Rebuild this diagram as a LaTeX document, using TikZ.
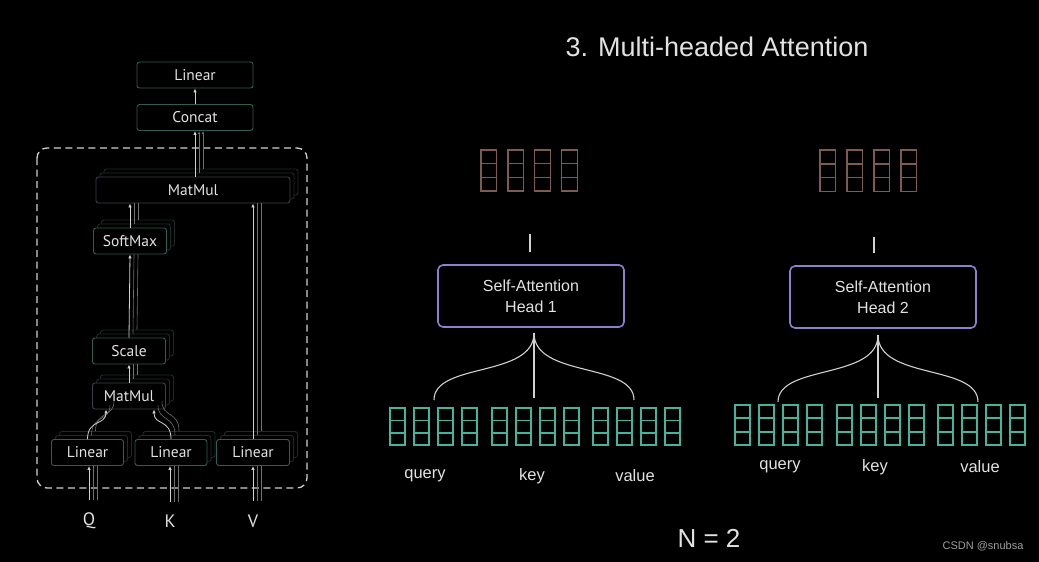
\documentclass[tikz,border=0pt]{standalone}
\usepackage{fontspec}
\setmainfont{Liberation Sans}
\newfontfamily\blockfont{PT Sans}
\usetikzlibrary{arrows.meta,positioning,shadows,calc}
\definecolor{textCol}{HTML}{E2E2E2}
\definecolor{blockCol}{HTML}{2F5E54}
\definecolor{mulCol}{HTML}{3E3E4C}
\definecolor{stackCol}{HTML}{1E2A27}
\definecolor{headCol}{HTML}{8A82CE}
\definecolor{outVecCol}{HTML}{7E5A52}
\definecolor{inVecCol}{HTML}{45B49C}
\definecolor{edgeColor}{HTML}{D0D0D0}
\definecolor{faintCol}{HTML}{707070}
\tikzstyle{block}=[draw=blockCol, fill=black, line width=0.9pt, rounded corners=2.5pt, text=textCol,
    font=\blockfont\fontsize{15.5}{17}\selectfont, minimum height=26pt, inner sep=0pt]
\tikzstyle{stacked}=[copy shadow={shadow xshift=8pt, shadow yshift=8pt, draw=stackCol, fill=black, opacity=1},
    copy shadow={shadow xshift=4pt, shadow yshift=4pt, draw=stackCol, fill=black, opacity=1}]
\tikzstyle{connection}=[draw=edgeColor, line width=0.8pt, -{Latex[length=4pt,width=3.5pt]}]
\tikzstyle{faint}=[draw=faintCol, line width=0.6pt]
\tikzstyle{headbox}=[draw=headCol, fill=black, line width=1.6pt, rounded corners=5pt, minimum width=186pt,
    minimum height=62pt, align=center, text=textCol, font=\fontsize{16}{21}\selectfont]
\tikzstyle{fork}=[draw=edgeColor, line width=1.1pt]
\tikzstyle{outvec}=[draw=outVecCol, line width=1.3pt]
\tikzstyle{invec}=[draw=inVecCol, line width=1.9pt]
\tikzstyle{veclabel}=[text=textCol, font=\fontsize{16.5}{18}\selectfont]
\tikzstyle{inlabel}=[text=textCol, font=\blockfont\fontsize{18}{20}\selectfont, inner sep=0pt]

\begin{document}
\begin{tikzpicture}[x=1pt, y=-1pt]

    \fill[black] (0,0) rectangle (1039,562);
    \useasboundingbox (0,0) rectangle (1039,562);

    % ==== TITLE ====
    \node[text=textCol, font=\fontsize{27}{30}\selectfont] (title) at (717,47) {3. Multi-headed Attention};

    % === ATTENTION BLOCK ===
    \draw[draw=edgeColor, line width=1.3pt, dash pattern=on 7pt off 4.5pt, rounded corners=10pt]
        (37,148) rectangle (307,488);

    \node[block, minimum width=116pt] (linOut) at (195,75) {Linear};
    \node[block, minimum width=116pt] (concat) at (195,117.5) {Concat};
    \node[block, stacked, draw=mulCol, minimum width=194pt] (mm2) at (193,190) {MatMul};
    \node[block, stacked, minimum width=73pt] (softmax) at (130,241) {SoftMax};
    \node[block, stacked, minimum width=73pt] (scale) at (129,351) {Scale};
    \node[block, stacked, draw=mulCol, minimum width=73pt] (mm1) at (129,396) {MatMul};
    \node[block, stacked, minimum width=72pt] (linQ) at (87.5,452.5) {Linear};
    \node[block, stacked, minimum width=72pt] (linK) at (171,452.5) {Linear};
    \node[block, stacked, minimum width=73pt] (linV) at (253,452.5) {Linear};

    % inputs
    \node[inlabel] (qIn) at (89,521) {Q};
    \node[inlabel] (kIn) at (170,521) {K};
    \node[inlabel] (vIn) at (253,521) {V};

    % ==== CONNECTIONS ====
    % other heads: faint copies beside each arrow
    \foreach \s in {4,8} {
        \draw[faint] ([xshift=\s pt, yshift=13pt]qIn.north) -- ([xshift=\s pt]qIn.north |- linQ.south);
        \draw[faint] ([xshift=\s pt, yshift=13pt]kIn.north) -- ([xshift=\s pt]kIn.north |- linK.south);
        \draw[faint] ([xshift=\s pt, yshift=13pt]vIn.north) -- ([xshift=\s pt]vIn.north |- linV.south);
        \draw[faint] ([shift={(\s,-\s)}]linQ.north) .. controls ([shift={(\s,-\s-20)}]linQ.north)
            and ([xshift=\s pt-23pt, yshift=\s pt-16pt]mm1.south) .. ([xshift=\s pt-23pt, yshift=\s pt]mm1.south);
        \draw[faint] ([shift={(\s,-\s)}]linK.north) .. controls ([shift={(\s,-\s-20)}]linK.north)
            and ([xshift=\s pt+25pt, yshift=\s pt-16pt]mm1.south) .. ([xshift=\s pt+25pt, yshift=\s pt]mm1.south);
        \draw[faint] ([shift={(\s,-\s)}]mm1.north) -- ([xshift=\s pt]scale.south);
        \draw[faint] ([shift={(\s,-\s)}]scale.north) -- ([xshift=\s pt]softmax.south);
        \draw[faint] ([shift={(\s,-\s)}]softmax.north) -- ([xshift=\s pt]softmax.north |- mm2.south);
        \draw[faint] ([shift={(\s,-\s)}]linV.north) -- ([xshift=\s pt]linV.north |- mm2.south);
        \draw[faint, -{Latex[length=3pt,width=2.5pt]}] ([shift={(\s,-\s)}]concat.south |- mm2.north) -- ([xshift=\s pt]concat.south);
    }

    \draw[connection] ([yshift=13pt]qIn.north) -- (qIn.north |- linQ.south);
    \draw[connection] ([yshift=13pt]kIn.north) -- (kIn.north |- linK.south);
    \draw[connection] ([yshift=13pt]vIn.north) -- (vIn.north |- linV.south);

    % Linear -> MatMul
    \draw[connection] (linQ.north) .. controls ([yshift=20pt]linQ.north)
        and ([xshift=-23pt, yshift=-16pt]mm1.south) .. ([xshift=-23pt]mm1.south);
    \draw[connection] (linK.north) .. controls ([yshift=20pt]linK.north)
        and ([xshift=25pt, yshift=-16pt]mm1.south) .. ([xshift=25pt]mm1.south);

    % MatMul -> Scale -> SoftMax -> MatMul
    \draw[connection] (mm1.north) -- (scale.south);
    \draw[connection] (scale.north) -- (softmax.south);
    \draw[connection] (softmax.north) -- (softmax.north |- mm2.south);

    % V -> MatMul
    \draw[connection] (linV.north) -- (linV.north |- mm2.south);

    % MatMul -> Concat -> Linear
    \draw[connection] (concat.south |- mm2.north) -- (concat.south);
    \draw[connection] (concat.north) -- (linOut.south);

    % === HEAD 1 ===
    \node[headbox] (head1) at (531,296) {Self-Attention\\Head 1};
    \foreach \c in {0,...,3}
        \foreach \r in {0,1,2}
            \draw[outvec] (481+26.9*\c, 150+13.67*\r) rectangle ++(15.5,13.67);
    \coordinate (out1) at (530,234);
    \draw[fork] (out1) -- (out1 |- head1.north) [shorten >=12pt];

    \foreach \g in {0,1,2}
        \foreach \c in {0,...,3}
            \foreach \r in {0,1,2}
                \draw[invec] (390+101.7*\g+24*\c, 408.3+12.23*\r) rectangle ++(15,12.23);

    \coordinate (fork1) at (534,333);
    \coordinate (q1) at (434,400);
    \coordinate (k1) at (534,398);
    \coordinate (v1) at (634,400);
    \draw[fork] (fork1) .. controls (534,378) and (434,362) .. (q1);
    \draw[fork] (fork1) -- (k1);
    \draw[fork] (fork1) .. controls (534,378) and (634,362) .. (v1);

    \node[veclabel] (q1Lbl) at (425,476) {query};
    \node[veclabel] (k1Lbl) at (532,476) {key};
    \node[veclabel] (v1Lbl) at (635,476) {value};

    % === HEAD 2 ===
    \node[headbox] (head2) at (883,297) {Self-Attention\\Head 2};
    \foreach \c in {0,...,3}
        \foreach \r in {0,1,2}
            \draw[outvec] (820+27*\c, 150+13.9*\r) rectangle ++(15.5,13.9);
    \coordinate (out2) at (874,237);
    \draw[fork] (out2) -- (out2 |- head2.north) [shorten >=12pt];

    \foreach \g in {0,1,2}
        \foreach \c in {0,...,3}
            \foreach \r in {0,1,2}
                \draw[invec] (735+101.7*\g+24*\c, 405+13.33*\r) rectangle ++(15,13.33);

    \coordinate (fork2) at (878,335);
    \coordinate (q2) at (778,402);
    \coordinate (k2) at (878,398);
    \coordinate (v2) at (978,402);
    \draw[fork] (fork2) .. controls (878,380) and (778,364) .. (q2);
    \draw[fork] (fork2) -- (k2);
    \draw[fork] (fork2) .. controls (878,380) and (978,364) .. (v2);

    \node[veclabel] (q2Lbl) at (780,467) {query};
    \node[veclabel] (k2Lbl) at (875,467) {key};
    \node[veclabel] (v2Lbl) at (980,467) {value};

    % ==== FOOTER ====
    \node[text=textCol, font=\fontsize{26}{28}\selectfont] (nHeads) at (709,538) {N = 2};
    \node[text=gray!75, font=\fontsize{11}{12}\selectfont] (mark) at (983,546.5) {CSDN @snubsa};

\end{tikzpicture}
\end{document}
